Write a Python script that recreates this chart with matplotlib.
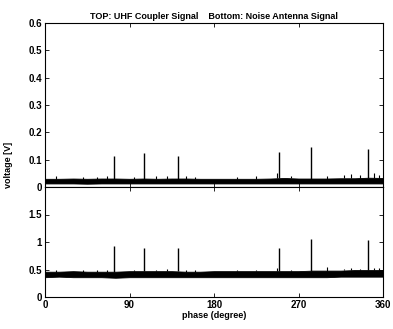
import matplotlib
matplotlib.use("Agg")
import matplotlib.pyplot as plt
import numpy as np

# Noise band envelopes (phase in degrees)
env_phase = [0, 15, 30, 45, 60, 75, 90, 105, 120, 135, 150, 165, 180, 195, 210,
             225, 240, 255, 270, 285, 300, 315, 330, 345, 360]
top_low = [0.013, 0.013, 0.013, 0.012, 0.013, 0.013, 0.013, 0.013, 0.013, 0.013, 0.013, 0.013, 0.013,
           0.013, 0.013, 0.013, 0.013, 0.013, 0.013, 0.013, 0.013, 0.013, 0.013, 0.013, 0.013]
top_high = [0.030, 0.030, 0.031, 0.030, 0.031, 0.031, 0.030, 0.031, 0.030, 0.031, 0.031, 0.030, 0.030,
            0.030, 0.030, 0.030, 0.031, 0.033, 0.031, 0.031, 0.031, 0.032, 0.032, 0.034, 0.033]
bot_low = [0.36, 0.37, 0.36, 0.36, 0.36, 0.35, 0.36, 0.36, 0.36, 0.36, 0.36, 0.36, 0.36,
           0.36, 0.36, 0.36, 0.36, 0.36, 0.36, 0.36, 0.36, 0.37, 0.37, 0.37, 0.37]
bot_high = [0.46, 0.46, 0.47, 0.46, 0.46, 0.46, 0.47, 0.47, 0.47, 0.47, 0.46, 0.46, 0.47,
            0.47, 0.47, 0.47, 0.47, 0.47, 0.47, 0.48, 0.48, 0.48, 0.49, 0.49, 0.49]

# Discharge spikes
spike_phase = [73.5, 105.5, 141.5, 249.0, 283.0, 344.0]
top_spike = [0.113, 0.124, 0.113, 0.128, 0.146, 0.139]
bot_spike = [0.93, 0.90, 0.90, 0.90, 1.05, 1.04]

# Small sporadic bumps above the band
bump_phase = [12, 40, 55, 66, 95, 118, 130, 150, 160, 205, 225, 247, 262, 300, 318, 326, 336, 350, 356]
top_bump = [0.040, 0.038, 0.038, 0.040, 0.038, 0.040, 0.042, 0.040, 0.038, 0.038, 0.040, 0.050,
            0.040, 0.040, 0.045, 0.046, 0.044, 0.050, 0.045]
bot_bump = [0.50, 0.49, 0.49, 0.50, 0.50, 0.50, 0.51, 0.50, 0.49, 0.49, 0.50, 0.52,
            0.50, 0.55, 0.51, 0.52, 0.51, 0.53, 0.52]

xticks = [0, 90, 180, 270, 360]
top_yticks = [0, 0.1, 0.2, 0.3, 0.4, 0.5, 0.6]
bot_yticks = [0, 0.5, 1, 1.5, 2]

plt.rcParams['font.family'] = ['Liberation Sans', 'DejaVu Sans']
plt.rcParams['font.size'] = 7
plt.rcParams['font.weight'] = 'bold'
plt.rcParams['axes.titleweight'] = 'bold'
plt.rcParams['axes.labelweight'] = 'bold'

fig = plt.figure(figsize=(3.93, 3.29), dpi=100)
L, R = 45 / 393, 383 / 393
ax1 = fig.add_axes([L, 1 - 187 / 329, R - L, (187 - 23) / 329])
ax2 = fig.add_axes([L, 1 - 297 / 329, R - L, (297 - 187) / 329])

for ax, lo, hi, sp, bump, yt, ylim in [
        (ax1, top_low, top_high, top_spike, top_bump, top_yticks, (0, 0.6)),
        (ax2, bot_low, bot_high, bot_spike, bot_bump, bot_yticks, (0, 2))]:
    ax.fill_between(env_phase, lo, hi, color='black', linewidth=0.6)
    base = np.interp(spike_phase, env_phase, hi)
    ax.vlines(spike_phase, base, sp, color='black', linewidth=1.0)
    bbase = np.interp(bump_phase, env_phase, hi)
    ax.vlines(bump_phase, bbase, bump, color='black', linewidth=0.8)
    ax.set_xlim(0, 360)
    ax.set_ylim(*ylim)
    ax.set_xticks(xticks)
    ax.set_yticks(yt)
    ax.tick_params(direction='in', top=True, right=True, length=3, width=0.6, pad=2)
    for s in ax.spines.values():
        s.set_linewidth(0.8)

ax1.set_xticklabels([])
ax1.set_yticklabels(['0', '0.1', '0.2', '0.3', '0.4', '0.5', '0.6'])
ax2.set_yticklabels(['0', '0.5', '1', '1.5', ''])
ax2.set_xticklabels([str(v) for v in xticks])
ax2.set_xlabel('phase (degree)', labelpad=1, fontsize=6.5)
ax1.set_title('TOP: UHF Coupler Signal    Bottom: Noise Antenna Signal', fontsize=6.5, pad=3)
fig.text(0.022, 1 - 165 / 329, 'voltage [V]', rotation=90, ha='center', va='center',
         fontsize=6.5, fontweight='bold')

fig.savefig('out.png', dpi=100)
